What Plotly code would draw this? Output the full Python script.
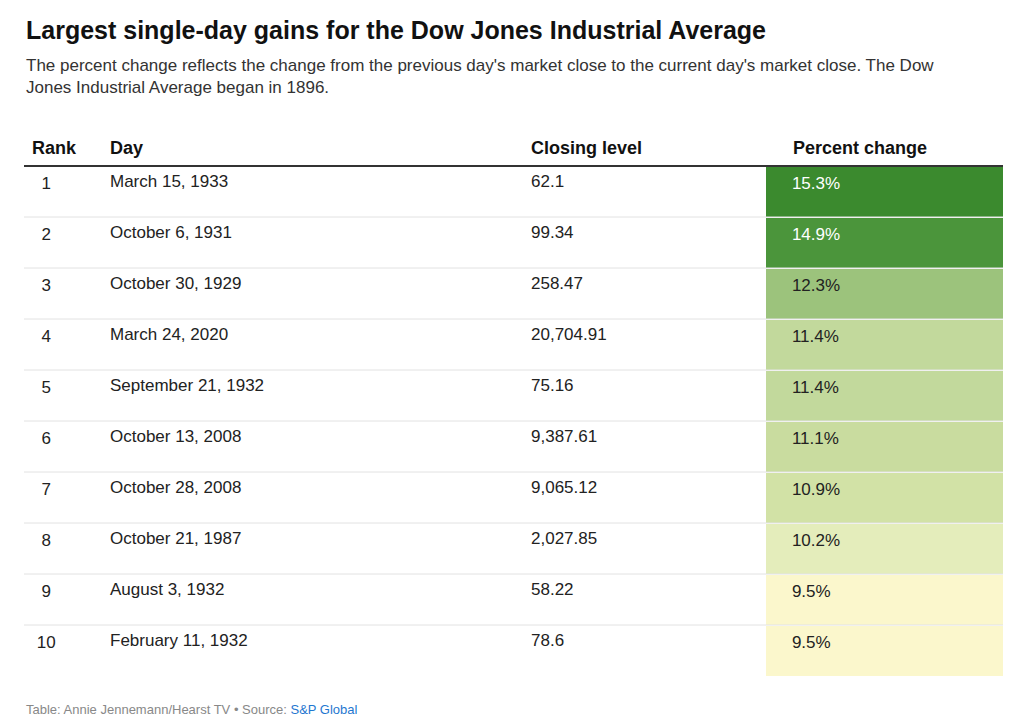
from __future__ import annotations

import plotly.graph_objects as go

W, H = 1024, 726
OFF = 8  # the page adds its own margin
TOP, HEADER_H, ROW_H = 130 - OFF, 36, 51  # pixel layout of the table
LEFT, RIGHT = 24 - OFF, 1003 - OFF
FONT = "Liberation Sans"

rank = ["&nbsp;&nbsp;%d" % i if i < 10 else "&nbsp;%d" % i for i in range(1, 11)]
day = [
    "March 15, 1933", "October 6, 1931", "October 30, 1929", "March 24, 2020",
    "September 21, 1932", "October 13, 2008", "October 28, 2008",
    "October 21, 1987", "August 3, 1932", "February 11, 1932",
]
closing = ["62.1", "99.34", "258.47", "20,704.91", "75.16", "9,387.61",
           "9,065.12", "2,027.85", "58.22", "78.6"]
pct = [15.3, 14.9, 12.3, 11.4, 11.4, 11.1, 10.9, 10.2, 9.5, 9.5]
pct_fill = ["#3b8a2e", "#4b953b", "#9cc37c", "#c2d99c", "#c2d99c",
            "#c9dc9f", "#d2e2a6", "#e4edbb", "#fbf7cc", "#fbf7cc"]
pct_font = ["white", "white"] + ["#222222"] * 8

fig = go.Figure(
    go.Table(
        columnwidth=[78, 421, 242, 238],
        header=dict(
            values=["<b>Rank</b>", "<b>Day</b>", "<b>Closing level</b>", "&nbsp;&nbsp;&nbsp;&nbsp;<b>Percent change</b>"],
            align="left",
            height=HEADER_H,
            fill_color="white",
            line_color="white",
            font=dict(family=FONT, size=18, color="#111111"),
        ),
        cells=dict(
            values=[rank, day, closing, ["&nbsp;&nbsp;&nbsp;&nbsp;%.1f%%" % p for p in pct]],
            align="left",
            height=ROW_H,
            fill_color=[["white"] * 10, ["white"] * 10, ["white"] * 10, pct_fill],
            line_color="white",
            font=dict(family=FONT, size=17, color=[["#222222"] * 10] * 3 + [pct_font]),
        ),
        domain=dict(x=[LEFT / W, RIGHT / W], y=[0, 1 - TOP / H]),
    )
)

# header rule and row separators
y_head = 1 - (TOP + HEADER_H) / H
fig.add_shape(type="line", xref="paper", yref="paper", x0=LEFT / W, x1=RIGHT / W,
              y0=y_head, y1=y_head, line=dict(color="#333333", width=2))
for i in range(1, 10):
    y = 1 - (TOP + HEADER_H + i * ROW_H) / H
    fig.add_shape(type="line", xref="paper", yref="paper", x0=LEFT / W, x1=RIGHT / W,
                  y0=y, y1=y, line=dict(color="#e2e2e2", width=1))

fig.add_annotation(x=LEFT / W, y=1 - 6 / H, xref="paper", yref="paper", xanchor="left", yanchor="top",
                   showarrow=False, text="<b>Largest single-day gains for the Dow Jones Industrial Average</b>",
                   font=dict(family=FONT, size=25, color="#111111"))
fig.add_annotation(x=LEFT / W, y=1 - 46 / H, xref="paper", yref="paper", xanchor="left", yanchor="top",
                   showarrow=False, align="left",
                   text="The percent change reflects the change from the previous day's market close to the current day's market close. The Dow<br>Jones Industrial Average began in 1896.",
                   font=dict(family=FONT, size=17, color="#333333"))
fig.add_annotation(x=LEFT / W, y=1 - 692 / H, xref="paper", yref="paper", xanchor="left", yanchor="top",
                   showarrow=False,
                   text="Table: Annie Jennemann/Hearst TV • Source: <span style='color:#1f77d0'>S&P Global</span>",
                   font=dict(family=FONT, size=13, color="#888888"))

fig.update_layout(width=W, height=H, margin=dict(l=0, r=0, t=0, b=0),
                  paper_bgcolor="white", plot_bgcolor="white")
fig.write_html("out.html")
